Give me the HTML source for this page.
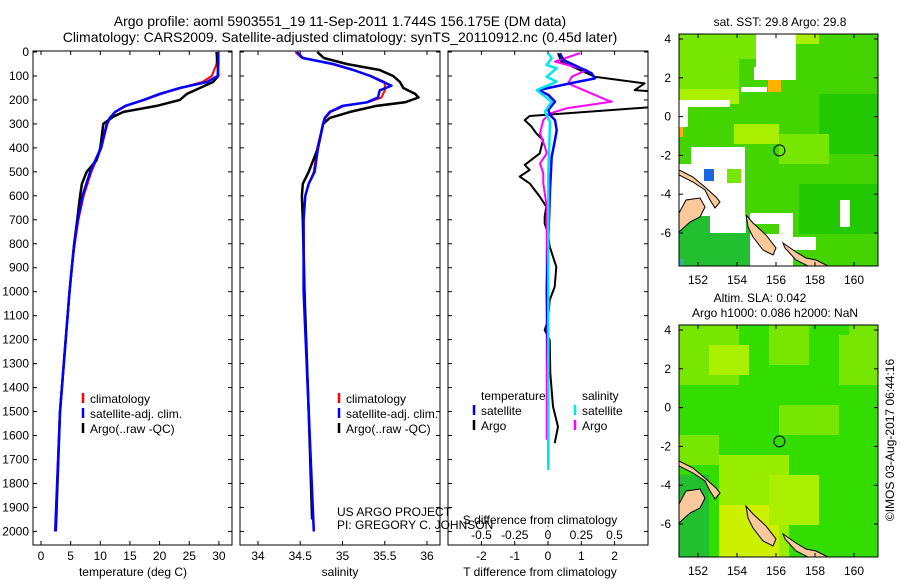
<!DOCTYPE html>
<html><head><meta charset="utf-8"><style>
body{margin:0;background:#fff;}
svg{display:block;font-family:"Liberation Sans",sans-serif;}
</style></head><body>
<svg id="c" width="900" height="580" viewBox="0 0 900 580">
<defs>
<clipPath id="cp1"><rect x="33" y="51" width="199" height="494"/></clipPath>
<clipPath id="cp2"><rect x="240" y="51" width="200" height="494"/></clipPath>
<clipPath id="cp3"><rect x="448" y="51" width="200" height="494"/></clipPath>
<clipPath id="cpm1"><rect x="679" y="34" width="199" height="232"/></clipPath>
<clipPath id="cpm2"><rect x="679" y="325" width="199" height="232"/></clipPath>
</defs>
<text x="340" y="26" font-size="14" text-anchor="middle">Argo profile: aoml 5903551_19 11-Sep-2011 1.744S 156.175E (DM data)</text>
<text x="340" y="42" font-size="14" text-anchor="middle">Climatology: CARS2009. Satellite-adjusted climatology: synTS_20110912.nc (0.45d later)</text>
<g id="p1"></g>
<g id="p2"></g>
<g id="p3"></g>
<g id="m1"></g>
<g id="m2"></g>
<text x="337" y="516" font-size="12">US ARGO PROJECT</text>
<text x="337" y="529" font-size="12">PI: GREGORY C. JOHNSON</text>
<text x="780" y="26" font-size="12" text-anchor="middle">sat. SST: 29.8 Argo: 29.8</text>
<text x="760" y="302" font-size="12" text-anchor="middle">Altim. SLA: 0.042</text>
<text x="775" y="317" font-size="12" text-anchor="middle">Argo h1000: 0.086 h2000: NaN</text>
<text x="0" y="0" font-size="12" text-anchor="middle" transform="translate(894,440) rotate(-90)">©IMOS 03-Aug-2017 06:44:16</text>
</svg>
<script>
// ---- data ----
const depthTicks=[0,100,200,300,400,500,600,700,800,900,1000,1100,1200,1300,1400,1500,1600,1700,1800,1900,2000];
const tTicks=[0,5,10,15,20,25,30];
const sTicks=[34,34.5,35,35.5,36];
const dtTicks=[-2,-1,0,1,2];
const dsTicks=[-0.5,-0.25,0,0.25,0.5];
const tArgoDepth=[0,50,100,125,150,175,200,225,250,270,300,400,450,500,550,600,700,800,900,1000,1500,2000];
const tArgo=[29.6,29.8,29.9,29.0,26.8,24.6,23.4,19.5,13.9,12.2,10.5,10.0,9.4,7.7,6.9,6.6,6.1,5.6,5.2,4.8,3.2,2.5];
const tClimDepth=[0,50,100,125,150,175,200,225,250,275,300,400,500,600,700,800,900,1000,1500,2000];
const tSat=[29.9,29.9,29.8,28.0,23.4,20.0,17.3,14.2,12.5,11.6,11.1,10.1,8.3,7.0,6.2,5.6,5.2,4.8,3.2,2.4];
const tClim=[29.7,29.6,28.8,27.2,23.6,20.3,17.5,14.4,12.6,11.7,11.2,10.2,8.5,7.2,6.3,5.7,5.2,4.8,3.2,2.4];
const sArgoDepth=[0,25,50,75,100,125,150,175,190,210,225,250,275,300,400,500,550,600,700,1000,1500,1950];
const sArgo=[34.70,34.78,35.05,35.44,35.60,35.68,35.72,35.86,35.90,35.74,35.40,35.09,34.85,34.77,34.71,34.60,34.53,34.52,34.53,34.55,34.60,34.64];
const sClimDepth=[0,25,50,75,100,125,140,160,190,210,225,250,275,300,400,500,550,600,700,1000,1500,2000];
const sSat=[34.46,34.53,34.89,35.13,35.33,35.48,35.58,35.44,35.42,35.29,35.00,34.85,34.79,34.77,34.71,34.67,34.60,34.56,34.54,34.54,34.60,34.66];
const sClim=[34.44,34.52,34.87,35.12,35.34,35.50,35.50,35.50,35.46,35.30,35.02,34.86,34.80,34.77,34.70,34.66,34.60,34.56,34.54,34.55,34.60,34.66];
const dtArgoDepth=[5,40,103,131,159,165,200,221,228,267,284,311,339,367,423,471,492,520,548,603,645,687,715,757,812,896,979,1035,1118,1160,1201,1340,1479,1563,1632];
const dtArgo=[0.3,0.4,1.4,2.9,2.6,3.2,3.5,3.5,3.3,-0.55,-0.7,-0.5,-0.35,-0.15,-0.25,-0.7,-0.55,-0.85,-0.55,-0.25,-0.05,-0.1,-0.1,0,0.05,0.25,0.2,0.05,0,-0.1,0.05,0.07,0.15,0.3,0.2];
const dtSatDepth=[5,33,89,110,131,159,179,207,242,263,284,326,367,437,576,785,993,1340,1730];
const dtSat=[0.36,0.46,1.31,1.41,0.66,-0.29,0.01,0.21,0.01,0.06,0.21,0.26,0.21,0.11,0.06,0.01,-0.04,0.01,0.01];
const dsSatDepth=[5,26,54,68,103,124,159,207,249,291,506,1744];
const dsSat=[0.002,0.028,-0.01,0.065,-0.01,0.065,-0.085,0.028,-0.023,0.015,0.002,0.002];
const dsArgoDepth=[5,40,75,103,131,200,207,235,256,284,339,395,423,465,506,548,645,923,1340,1618];
const dsArgo=[0.24,0.053,0.29,0.18,0.15,0.44,0.48,0.14,0.015,-0.035,-0.06,-0.023,-0.01,-0.06,-0.035,-0.035,-0.01,-0.01,-0.01,-0.01];

const NS="http://www.w3.org/2000/svg";
function mk(tag,attrs,parent,txt){const e=document.createElementNS(NS,tag);for(const k in attrs)e.setAttribute(k,attrs[k]);if(txt!==undefined)e.textContent=txt;parent.appendChild(e);return e;}
const Y=d=>52+d*0.2397;
const xT=v=>41+v*5.93;
const xS=v=>258+(v-34)*84.5;
const xDT=v=>548+v*33.3;
const xDS=v=>548+v*133;

function frame(g,x0,w,name){
  const r=mk('rect',{x:x0,y:51,width:w,height:494,fill:'none',stroke:'#000','stroke-width':1},g);
  
  
  depthTicks.forEach(d=>{mk('line',{x1:x0,x2:x0+4,y1:Y(d),y2:Y(d),stroke:'#000'},g);mk('line',{x1:x0+w-4,x2:x0+w,y1:Y(d),y2:Y(d),stroke:'#000'},g);});
}
function line(g,depths,vals,xf,color,w,clip,name,dash){
  const pts=depths.map((d,i)=>xf(vals[i]).toFixed(1)+','+Y(d).toFixed(1)).join(' ');
  const p=mk('polyline',{points:pts,fill:'none',stroke:color,'stroke-width':w,'clip-path':'url(#'+clip+')','stroke-linejoin':'round'},g);
  if(dash)p.setAttribute('stroke-dasharray',dash);
  
  
}
function xticks(g,ticks,xf,y,fmt){
  ticks.forEach(t=>{mk('line',{x1:xf(t),x2:xf(t),y1:545,y2:541,stroke:'#000'},g);mk('line',{x1:xf(t),x2:xf(t),y1:51,y2:55,stroke:'#000'},g);
    const e=mk('text',{x:xf(t),y:y,'font-size':12,'text-anchor':'middle'},g,fmt?fmt(t):String(t));
    
    });
}
function legend(g,x,y,items){
  items.forEach((it,i)=>{mk('line',{x1:x,x2:x,y1:y+i*15-10,y2:y+i*15,stroke:it[0],'stroke-width':2.5},g);
    const e=mk('text',{x:x+7,y:y+i*15,'font-size':12},g,it[1]);
    
    });
}
// panel 1
const p1=document.getElementById('p1');
frame(p1,33,199,'temperature');
depthTicks.forEach(d=>{const e=mk('text',{x:29,y:Y(d)+4,'font-size':12,'text-anchor':'end'},p1,String(d));
  
  });
xticks(p1,tTicks,xT,560);
const xl1=mk('text',{x:133,y:576,'font-size':12,'text-anchor':'middle'},p1,'temperature (deg C)');


line(p1,tClimDepth,tClim,xT,'#ff0000',2,'cp1','temperature-climatology-line');
line(p1,tArgoDepth,tArgo,xT,'#000',2.5,'cp1','temperature-argo-line');
line(p1,tClimDepth,tSat,xT,'#0000ff',2.5,'cp1','temperature-satellite-line');
legend(p1,83,403,[['#ff0000','climatology'],['#0000ff','satellite-adj. clim.'],['#000','Argo(..raw -QC)']]);
// panel 2
const p2=document.getElementById('p2');
frame(p2,240,200,'salinity');
xticks(p2,sTicks,xS,560);
const xl2=mk('text',{x:340,y:576,'font-size':12,'text-anchor':'middle'},p2,'salinity');


line(p2,sClimDepth,sClim,xS,'#ff0000',2,'cp2','salinity-climatology-line');
line(p2,sArgoDepth,sArgo,xS,'#000',2.5,'cp2','salinity-argo-line');
line(p2,sClimDepth,sSat,xS,'#0000ff',2.5,'cp2','salinity-satellite-line');
legend(p2,339,403,[['#ff0000','climatology'],['#0000ff','satellite-adj. clim.'],['#000','Argo(..raw -QC)']]);
// panel 3
const p3=document.getElementById('p3');
frame(p3,448,200,'difference');
xticks(p3,dtTicks,xDT,560);
dsTicks.forEach(t=>{const e=mk('text',{x:xDS(t),y:539,'font-size':12,'text-anchor':'middle'},p3,String(t));
  
  });
const sl=mk('text',{x:540,y:524,'font-size':12,'text-anchor':'middle'},p3,'S difference from climatology');


const tl=mk('text',{x:540,y:576,'font-size':12,'text-anchor':'middle'},p3,'T difference from climatology');


mk('line',{x1:548,x2:548,y1:Y(1960),y2:Y(2060),stroke:'#000','stroke-dasharray':'1,3'},p3);
line(p3,dtArgoDepth,dtArgo,xDT,'#000',2,'cp3','t-diff-argo-line');
line(p3,dsArgoDepth,dsArgo,xDS,'#ff00ff',2,'cp3','s-diff-argo-line');
line(p3,dtSatDepth,dtSat,xDT,'#0000ff',2.5,'cp3','t-diff-satellite-line');
line(p3,dsSatDepth,dsSat,xDS,'#00e5ee',2.5,'cp3','s-diff-satellite-line');
const lt=mk('text',{x:481,y:400,'font-size':12},p3,'temperature');


const ls=mk('text',{x:582,y:400,'font-size':12},p3,'salinity');


legend(p3,474,415,[['#0000ff','satellite'],['#000','Argo']]);
legend(p3,575,415,[['#00e5ee','satellite'],['#ff00ff','Argo']]);

// maps
const lonX=l=>698+(l-152)*19.5;
const lonTicks=[152,154,156,158,160];
const latTicks=[4,2,0,-2,-4,-6];
const land=[
 [[0,136],[14,143],[27,154],[37,163],[41,168],[36,174],[31,166],[26,156],[14,148],[0,141]],
 [[0,179],[7,166],[21,164],[26,173],[21,183],[11,188],[0,198]],
 [[67,181],[74,189],[87,201],[97,214],[94,221],[84,216],[74,203],[69,193]],
 [[104,209],[117,218],[127,224],[137,226],[151,233],[131,233],[117,226],[106,214]]
];
function map(g,top,clip,patches){
  const latY=l=>top+5+(4-l)*19.4;
  const cg=mk('g',{'clip-path':'url(#'+clip+')'},g);
  patches.forEach(p=>mk('rect',{x:679+p[0],y:top+p[1],width:p[2]-p[0],height:p[3]-p[1],fill:p[4]},cg));
  land.forEach(poly=>{const e=mk('polygon',{points:poly.map(p=>(679+p[0])+','+(top+p[1])).join(' '),fill:'#f9c89b',stroke:'#000','stroke-width':1},cg);
    
    });
  const c=mk('circle',{cx:lonX(156.175),cy:latY(-1.744),r:5.5,fill:'none',stroke:'#000','stroke-width':1},g);
  
  
  mk('rect',{x:679,y:top,width:199,height:232,fill:'none',stroke:'#000'},g);
  lonTicks.forEach(l=>{mk('line',{x1:lonX(l),x2:lonX(l),y1:top,y2:top+4,stroke:'#000'},g);mk('line',{x1:lonX(l),x2:lonX(l),y1:top+232,y2:top+228,stroke:'#000'},g);
    const e=mk('text',{x:lonX(l),y:top+250,'font-size':12,'text-anchor':'middle'},g,String(l));
    
    });
  latTicks.forEach(l=>{mk('line',{x1:679,x2:683,y1:latY(l),y2:latY(l),stroke:'#000'},g);mk('line',{x1:874,x2:878,y1:latY(l),y2:latY(l),stroke:'#000'},g);
    const e=mk('text',{x:671,y:latY(l)+4,'font-size':12,'text-anchor':'end'},g,String(l));
    
    });
}
const G='#44d400',L='#77e600',Y2='#aaee00',D='#22c800';
map(document.getElementById('m1'),34,'cpm1',[
 [0,0,199,232,G],[0,0,77,25,L],[0,25,60,60,L],[115,0,140,10,Y2],[0,55,60,70,Y2],[55,90,100,110,Y2],[140,60,199,120,D],[100,100,150,130,L],
 [120,150,199,200,D],[0,182,71,232,'#22c030'],[0,225,5,232,'#30b0a0'],
 [77,0,117,33,'#fff'],[75,33,117,46,'#fff'],[62,53,88,58,'#fff'],[89,46,102,58,'#ffb000'],
 [0,66,51,73,'#fff'],[0,73,9,93,'#fff'],[0,93,4,103,'#ffb000'],
 [0,113,66,182,'#fff'],[0,113,12,130,G],[48,135,62,149,L],[25,135,35,147,'#1a66dd'],[31,179,67,199,'#fff'],
 [71,179,114,232,'#fff'],[71,190,100,200,G],[114,203,137,216,'#fff'],[161,166,171,193,'#fff']
]);
map(document.getElementById('m2'),325,'cpm2',[
 [0,0,199,232,'#33dd00'],[0,0,60,60,L],[30,20,70,50,Y2],[90,0,130,40,L],[160,10,199,60,L],[100,80,160,110,L],
 [0,110,40,140,L],[40,130,110,232,'#99ee00'],[40,180,100,232,'#ccf000'],[90,150,150,200,Y2],[0,150,30,232,'#22c030'],
 [140,130,199,232,'#33dd00'],[170,0,199,40,'#77e600']
]);
</script>
</body></html>
